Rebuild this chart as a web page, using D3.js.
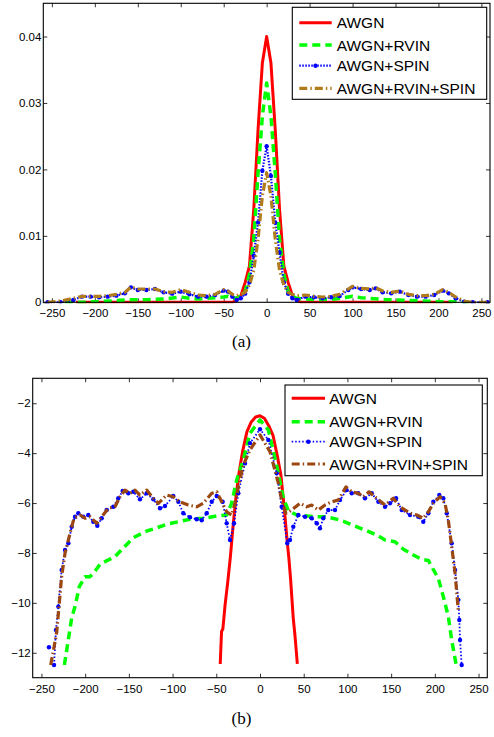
<!DOCTYPE html>
<html><head><meta charset="utf-8">
<script src="https://cdn.jsdelivr.net/npm/d3@7"></script>
<style>
html,body{margin:0;padding:0;background:#fff;}
svg{display:block;}
.tick text{font-family:"Liberation Sans",Arial,sans-serif;font-size:11.5px;fill:#000;}
</style></head>
<body>
<svg id="chart" width="494" height="737"></svg>
<script>
// ---------- data: panel (a) ----------
const seriesNames = ["AWGN","AWGN+RVIN","AWGN+SPIN","AWGN+RVIN+SPIN"];
const xTicks = [-250,-200,-150,-100,-50,0,50,100,150,200,250];
const yTicksA = [0,0.01,0.02,0.03,0.04];
const yTicksB = [-12,-10,-8,-6,-4,-2];

const aAwgnX = [-222,-40,-35,-30,-25,-20,-15,-10,-5,0,5,10,15,20,25,30,35,40,216];
const aAwgnY = [0,0,0.0003,0.0010,0.0030,0.0055,0.0140,0.0260,0.0360,0.0400,0.0360,0.0260,0.0140,0.0055,0.0030,0.0010,0.0003,0,0];

const aRvinX = [-235,-210,-200,-180,-160,-140,-120,-100,-90,-80,-70,-60,-50,-45,-40,-35,-30,-25,-20,-15,-10,-5,0,5,10,15,20,25,30,35,45,60,80,95,100,110,120,140,160,180,200,215,235];
const aRvinY = [0,0,0.0001,0.0002,0.0004,0.0004,0.0005,0.0008,0.0006,0.0005,0.0006,0.0007,0.0008,0.0009,0.0006,0.0007,0.0009,0.0016,0.0042,0.0095,0.0195,0.0280,0.0330,0.0280,0.0195,0.0095,0.0042,0.0016,0.0009,0.0006,0.0005,0.0004,0.0005,0.0008,0.0009,0.0007,0.0006,0.0004,0.0003,0.0002,0.0001,0.0001,0];

const aSpinX = [-255,-240,-225,-215,-205,-195,-185,-175,-165,-158,-150,-140,-130,-120,-110,-100,-90,-80,-70,-60,-50,-45,-40,-35,-30,-25,-20,-15,-10,-5,0,5,10,15,20,25,30,35,45,55,65,75,85,95,100,110,120,127,135,145,155,165,175,185,195,205,212,220,230,240,257];
const aSpinY = [0,0,0.00035,0.00085,0.00085,0.00075,0.00085,0.0010,0.00135,0.00225,0.00185,0.00185,0.0020,0.0015,0.0013,0.0016,0.0012,0.00085,0.00085,0.0011,0.00175,0.0016,0.00085,0.00035,0.0006,0.0013,0.0030,0.0070,0.0120,0.0198,0.0235,0.0190,0.0120,0.0075,0.0030,0.0013,0.0006,0.00035,0.00085,0.00075,0.0006,0.00075,0.00095,0.00185,0.00225,0.0020,0.00185,0.0021,0.0015,0.00135,0.0016,0.0011,0.00085,0.00085,0.0011,0.00175,0.00135,0.0006,0.0001,0,0];

const aBothX = [-255,-240,-225,-215,-205,-195,-185,-175,-165,-158,-150,-140,-130,-120,-110,-100,-90,-80,-70,-60,-50,-45,-40,-35,-30,-25,-20,-15,-10,-5,0,5,10,15,20,25,30,35,45,55,65,75,85,95,100,110,120,127,135,145,155,165,175,185,195,205,212,220,232,240,257];
const aBothY = [0,0.0002,0.0006,0.0009,0.0009,0.0009,0.0010,0.0012,0.0015,0.0023,0.0020,0.0020,0.0020,0.0016,0.0015,0.0019,0.0015,0.0011,0.0010,0.0012,0.0019,0.0017,0.0012,0.0010,0.0012,0.0015,0.0026,0.0048,0.0095,0.0160,0.0195,0.0160,0.0095,0.0048,0.0026,0.0015,0.0012,0.0010,0.0011,0.0009,0.0008,0.0009,0.0012,0.0020,0.0024,0.0021,0.0020,0.0022,0.0017,0.0015,0.0017,0.0012,0.0010,0.0010,0.0012,0.0019,0.0015,0.0008,0.0001,0,0];

// ---------- data: panel (b) ----------
const bAwgnX = [-45.5,-44,-42.5,-40,-37,-34,-30.5,-27,-24,-20,-15,-10,-5,0,5,10,15,20,24,28,31,33,35,38,40,42.7];
const bAwgnY = [-12.45,-11.15,-11.05,-10.1,-9.2,-8.2,-6.8,-5.6,-4.8,-3.95,-3.15,-2.75,-2.55,-2.5,-2.6,-2.9,-3.3,-4.15,-4.9,-6.3,-7.5,-8.2,-9.05,-10.6,-11.3,-12.45];

const bRvinX = [-223.8,-218,-215.4,-211.6,-206.7,-200.2,-194.5,-189.9,-183,-171.6,-165.9,-155.6,-144.9,-129.6,-122,-106.7,-93.4,-80,-64.9,-49.5,-38,-32.4,-26.7,-19.1,-11.4,0,9.5,19.1,26.7,32.4,42,64.9,76.3,91.5,103,122,133.5,143,154.4,164,175.4,185,192.6,197.5,204,209.7,215.4,219.3,224.2];
const bRvinY = [-12.49,-11.2,-10.6,-10.15,-9.35,-8.95,-8.95,-8.8,-8.45,-8.25,-8.15,-7.77,-7.39,-7.12,-7.04,-6.85,-6.75,-6.65,-6.61,-6.52,-6.48,-6.0,-5.08,-4.27,-3.2,-2.67,-3.07,-4.5,-5.8,-6.3,-6.48,-6.55,-6.55,-6.68,-6.84,-7.11,-7.28,-7.48,-7.55,-7.85,-8.08,-8.26,-8.3,-8.62,-9.02,-9.75,-10.55,-11.5,-12.45];

const bSpinX = [-241.4,-238.5,-235.6,-233.4,-230.7,-226.9,-223,-219.2,-215.4,-211.6,-207.8,-202.1,-196.4,-190.7,-186.1,-181.1,-175.4,-167.8,-162.1,-157.1,-150.6,-144.9,-137.3,-129.6,-122,-114.4,-108.7,-99.2,-93.4,-87.7,-80.1,-72.4,-66.7,-61,-55.2,-49.5,-42.7,-38.1,-34.3,-29.7,-24.8,-17.2,-11.4,0,9.5,19.1,24.8,31.2,34.3,38.1,43.8,51.5,59.1,64.9,68.6,72.4,78.1,85.8,91.5,99.1,104.9,112.4,120.1,127.8,135.4,143,148.7,155.6,162.1,171.6,181.1,186.8,192.6,198.3,205.1,209.7,213.6,219.3,223.1,226.9,228,228.8,230.7];
const bSpinY = [-11.78,null,-12.49,-11.09,-10.15,-8.68,-7.88,-7.61,-6.95,-6.55,-6.41,-6.55,-6.48,-6.75,-6.91,-6.61,-6.28,-6.15,-5.81,-5.52,-5.61,-5.55,-5.85,-5.61,-5.85,-6.21,-6.12,-5.72,-5.95,-6.41,-6.57,-6.65,-6.69,-6.41,-5.95,-5.72,-5.95,-6.81,-7.48,-6.81,-5.61,-4.41,-3.6,-3.04,-3.47,-4.81,-6.15,-7.61,-7.48,-6.95,-6.48,-6.55,-6.61,-6.81,-7.01,-6.61,-6.28,-6.28,-5.88,-5.48,-5.61,-5.61,-5.81,-5.61,-5.95,-6.15,-6.01,-5.81,-6.28,-6.48,-6.55,-6.75,-6.41,-5.95,-5.68,-5.81,-6.41,-7.61,-8.68,-9.88,-10.69,-11.49,-12.49];

const bBothX = [-239.4,-232.6,-229.6,-226.9,-223,-217.3,-212.8,-205.9,-200.2,-194.5,-186.8,-181.1,-173.5,-165.9,-160.2,-154.4,-148.7,-143,-137.3,-129.6,-122,-116.3,-106.7,-99.2,-91.5,-82,-72.4,-64.9,-55.2,-49.5,-43.8,-38.1,-32.4,-28.6,-24.8,-19.1,-11.4,0,11.4,21,24.8,29.7,36.2,45.8,53.4,59.1,66.7,74.4,82,89.6,98.4,104.9,112.4,118.2,124.7,133.5,143,152.5,160.2,171.6,179.3,186.8,192.6,198.3,205.9,211.6,215.4,219.3,223.1,226.9];
const bBothY = [-12.49,-11.2,-10.02,-8.95,-8.01,-7.21,-6.61,-6.48,-6.61,-6.55,-6.81,-6.55,-6.21,-6.15,-5.75,-5.48,-5.61,-5.48,-5.68,-5.48,-5.81,-6.01,-5.68,-5.75,-5.95,-6.08,-6.15,-6.01,-5.61,-5.55,-5.95,-6.35,-6.48,-6.01,-5.35,-4.48,-3.87,-3.27,-3.94,-5.21,-5.88,-6.41,-6.28,-6.01,-6.15,-6.08,-6.28,-6.08,-5.95,-5.88,-5.35,-5.55,-5.61,-5.75,-5.55,-5.81,-6.08,-5.81,-6.15,-6.41,-6.48,-6.61,-6.35,-6.01,-5.75,-6.01,-6.68,-7.75,-8.81,-10.35];

// ---------- drawing ----------
const svg = d3.select("#chart");
svg.append("rect").attr("width",494).attr("height",737).attr("fill","#fff");

function zip(xs, ys){ return xs.map((x,i)=>({x:x, y:ys[i]})); }

function panel(cfg){
  const x = d3.scaleLinear().domain(cfg.xDomain).range([cfg.left, cfg.right]);
  const y = d3.scaleLinear().domain(cfg.yDomain).range([cfg.bottom, cfg.top]);
  const g = svg.append("g");
  const clipId = "clip"+cfg.id;
  g.append("clipPath").attr("id",clipId).append("rect")
    .attr("x",cfg.left).attr("y",cfg.top-2).attr("width",cfg.right-cfg.left).attr("height",cfg.bottom-cfg.top+3);

  const ax = g.append("g").attr("class","axes");
  ax.append("g").attr("transform",`translate(0,${cfg.bottom})`)
    .call(d3.axisBottom(x).tickValues(xTicks).tickSizeInner(-4).tickSizeOuter(0).tickPadding(7)
      .tickFormat(d=> d<0 ? "\u2212"+Math.abs(d) : String(d)));
  ax.append("g").attr("transform",`translate(0,${cfg.top})`)
    .call(d3.axisTop(x).tickValues(xTicks).tickSizeInner(-4).tickSizeOuter(0).tickFormat(""));
  ax.append("g").attr("transform",`translate(${cfg.left},0)`)
    .call(d3.axisLeft(y).tickValues(cfg.yTicks).tickSizeInner(-4).tickSizeOuter(0).tickPadding(2).tickFormat(cfg.yFmt));
  ax.append("g").attr("transform",`translate(${cfg.right},0)`)
    .call(d3.axisRight(y).tickValues(cfg.yTicks).tickSizeInner(-4).tickSizeOuter(0).tickFormat(""));
  ax.selectAll(".domain").remove();
  ax.selectAll(".tick line").attr("stroke","#000").attr("stroke-width",0.8);
  ax.selectAll(".tick text").attr("font-family",'"Liberation Sans",Arial,sans-serif').attr("font-size","11.5px");

  const plot = g.append("g").attr("clip-path",`url(#${clipId})`);
  const line = d3.line().defined(d=>d.y!==null).x(d=>x(d.x)).y(d=>y(d.y));

  cfg.series.forEach(s=>{
    const data = zip(s.xs, s.ys);
    plot.append("path").datum(data).attr("d",line)
      .attr("fill","none").attr("stroke",s.color).attr("stroke-width",s.width)
      .attr("stroke-dasharray",s.dash||null).attr("stroke-linejoin","round");
    if(s.marker){
      plot.selectAll(null).data(data.filter(d=>d.y!==null)).enter().append("circle")
        .attr("cx",d=>x(d.x)).attr("cy",d=>y(d.y)).attr("r",s.marker).attr("fill",s.color);
    }
  });

  g.append("rect").attr("x",cfg.left).attr("y",cfg.top)
    .attr("width",cfg.right-cfg.left).attr("height",cfg.bottom-cfg.top)
    .attr("fill","none").attr("stroke","#000").attr("stroke-width",1.1);

  const L = cfg.legend;
  const lg = g.append("g");
  lg.append("rect").attr("x",L.x0).attr("y",L.y0).attr("width",L.x1-L.x0).attr("height",L.y1-L.y0)
    .attr("fill","#fff").attr("stroke","#000").attr("stroke-width",1.1);
  cfg.series.forEach((s,i)=>{
    const yy = L.rows[i];
    lg.append("line").attr("x1",L.lx0).attr("x2",L.lx1).attr("y1",yy).attr("y2",yy)
      .attr("stroke",s.color).attr("stroke-width",s.width).attr("stroke-dasharray",s.dash||null);
    if(s.marker){
      lg.append("circle").attr("cx",(L.lx0+L.lx1)/2).attr("cy",yy).attr("r",s.marker).attr("fill",s.color);
    }
    lg.append("text").attr("x",L.tx).attr("y",yy).attr("dy","0.36em")
      .attr("font-family",'"Liberation Sans",Arial,sans-serif').attr("font-size","15.5px")
      .attr("fill","#000").text(seriesNames[i]);
  });

  svg.append("text").attr("x",cfg.capX).attr("y",cfg.capY).attr("text-anchor","middle")
    .attr("font-family",'"Liberation Serif","Times New Roman",serif').attr("font-size","17px")
    .attr("fill","#000").text(cfg.caption);
}

panel({
  id:"a", left:43.3, right:490, top:3.3, bottom:302.3,
  xDomain:[-260,260], yDomain:[0,0.045], yTicks:yTicksA,
  yFmt: d=> d===0 ? "0" : d.toFixed(2),
  series:[
    {xs:aAwgnX, ys:aAwgnY, color:"#ff0000", width:3},
    {xs:aRvinX, ys:aRvinY, color:"#00ff00", width:3.5, dash:"8,5"},
    {xs:aSpinX, ys:aSpinY, color:"#0000ff", width:2.2, dash:"1.5,1.5", marker:2.2},
    {xs:aBothX, ys:aBothY, color:"#b07c1c", width:3.2, dash:"8,3,1.5,3"}
  ],
  legend:{x0:292.3, x1:486.7, y0:7.3, y1:99.3, rows:[22.7,45,65.7,88.3], lx0:299.3, lx1:331.7, tx:336.7},
  caption:"(a)", capX:241.5, capY:347
});

panel({
  id:"b", left:32.7, right:487.3, top:378.3, bottom:677.7,
  xDomain:[-260,260], yDomain:[-13,-1], yTicks:yTicksB,
  yFmt: d=> d<0 ? "\u2212"+Math.abs(d) : String(d),
  series:[
    {xs:bAwgnX, ys:bAwgnY, color:"#ff0000", width:3},
    {xs:bRvinX, ys:bRvinY, color:"#00ff00", width:3.5, dash:"8,5"},
    {xs:bSpinX, ys:bSpinY, color:"#0000ff", width:1.8, dash:"1.5,2", marker:2.2},
    {xs:bBothX, ys:bBothY, color:"#9c4610", width:3.2, dash:"8,3,1.5,3"}
  ],
  legend:{x0:285, x1:482.3, y0:385, y1:475.7, rows:[398.3,421.7,441.7,464], lx0:291.7, lx1:325, tx:329.3},
  caption:"(b)", capX:241.5, capY:724
});
</script>
</body></html>
